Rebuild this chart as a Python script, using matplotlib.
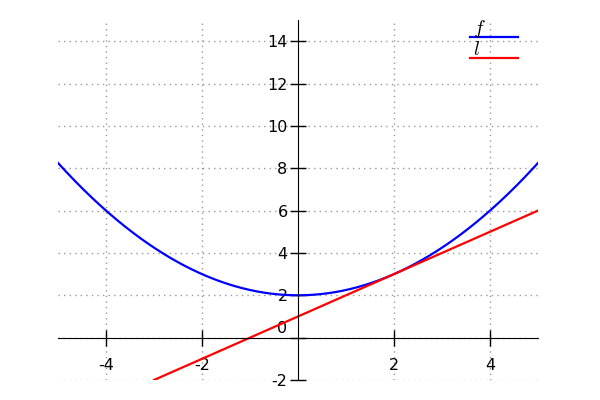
import numpy as np
import matplotlib
matplotlib.use("Agg")
import matplotlib.pyplot as plt
import matplotlib.transforms as mtrans

plt.rcParams["mathtext.fontset"] = "cm"

x_ticks = [-4, -2, 2, 4]
y_ticks = [-2, 0, 2, 4, 6, 8, 10, 12, 14]
labels = ["$f$", "$l$"]
colors = ["#0000ff", "#ff0000"]
# f(x) = x^2/4 + 2 ; tangent at x=2: l(x) = x + 1
f_coef = (0.25, 0.0, 2.0)
l_coef = (1.0, 1.0)
f_range = (-5, 5)
l_range = (-3, 5)

fig = plt.figure(figsize=(6, 4), dpi=100)
ax = fig.add_axes([58/600, 20/400, 480/600, 360/400])

xf = np.linspace(*f_range, 400)
yf = np.polyval(f_coef, xf)
xl = np.linspace(*l_range, 50)
yl = np.polyval(l_coef, xl)
ax.plot(xf, yf, color=colors[0], lw=1.6, label=labels[0])
ax.plot(xl, yl, color=colors[1], lw=1.6, label=labels[1])

ax.set_xlim(-5, 5)
ax.set_ylim(-2, 15)
for s in ["top", "right"]:
    ax.spines[s].set_visible(False)
ax.spines["left"].set_position(("data", 0))
ax.spines["bottom"].set_position(("data", 0))
ax.set_xticks(x_ticks)
ax.set_xticklabels([str(v) for v in x_ticks])
ax.set_yticks(y_ticks)
ax.set_yticklabels([str(v) for v in y_ticks])
ax.tick_params(axis="both", direction="inout", length=11, width=1, labelsize=11.5)
ax.tick_params(axis="x", pad=9.5)
ax.tick_params(axis="y", pad=2)
ax.grid(True, linestyle=(0, (1, 3)), color="#999999", lw=1)

# shift the "0" y label up slightly like the reference
for t in ax.get_yticklabels():
    if t.get_text() == "0":
        t.set_transform(t.get_transform() + mtrans.ScaledTranslation(0, 11/100, fig.dpi_scale_trans))

fs = 14
px = fs * 100 / 72
leg = fig.legend(*ax.get_legend_handles_labels(), loc="upper left",
                 bbox_to_anchor=(470/600, 1 - 28/400),
                 frameon=False, handlelength=48/px, borderpad=0,
                 handletextpad=-45/px, fontsize=fs, borderaxespad=0,
                 labelspacing=0.0)
for t in leg.get_texts():
    t.set_transform(t.get_transform() + mtrans.ScaledTranslation(0, 10/100, fig.dpi_scale_trans))

fig.savefig("out.png")
